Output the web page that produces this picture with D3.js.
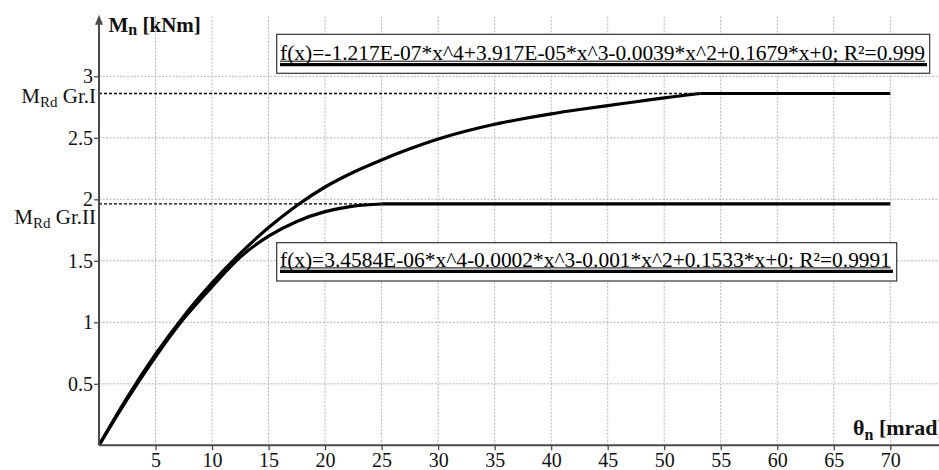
<!DOCTYPE html>
<html><head><meta charset="utf-8">
<script src="https://cdn.jsdelivr.net/npm/d3@7/dist/d3.min.js"></script>
<style>
html,body{margin:0;padding:0;background:#fff;}
svg{display:block;font-family:"Liberation Serif","Times New Roman",serif;}
</style></head>
<body><svg id="c" width="939" height="470"></svg>
<script>
// ---- data ----
const xTicks = [5,10,15,20,25,30,35,40,45,50,55,60,65,70];
const yTicks = [0.5,1,1.5,2,2.5,3];
const yTickLabels = ["0.5","1","1.5","2","2.5","3"];

const thetaI = [0,2.5,5,7.5,10,12.5,15,17.5,20,22.5,25,27.5,30,32.5,35,37.5,40,42.5,45,47.5,50,53.2,70];
const momentI = [0,0.39,0.74,1.05,1.32,1.56,1.77,1.95,2.10,2.22,2.32,2.41,2.49,2.555,2.61,2.655,2.695,2.73,2.762,2.793,2.825,2.86,2.86];
const thetaII = [0,2.5,5,7.5,10,12.5,15,17.5,20,22.5,25,70];
const momentII = [0,0.375,0.72,1.03,1.29,1.53,1.70,1.82,1.90,1.945,1.962,1.962];

const mrdI = 2.86, mrdII = 1.962;
const fitTextI = "f(x)=-1.217E-07*x^4+3.917E-05*x^3-0.0039*x^2+0.1679*x+0; R\u00B2=0.999";
const fitTextII = "f(x)=3.4584E-06*x^4-0.0002*x^3-0.001*x^2+0.1533*x+0; R\u00B2=0.9991";

// ---- drawing ----
const svg = d3.select("#c");
const x = d3.scaleLinear().domain([0,70]).range([99,890.3]);
const y = d3.scaleLinear().domain([0,3]).range([445.3,76.3]);
const xEnd = 939, yTop = y(3.5);
const axisColor = "#4a4a4a";

// grid
const grid = svg.append("g").attr("stroke","#b4b4b4").attr("stroke-width",1).attr("stroke-dasharray","2,1.5");
grid.selectAll("line.v").data(xTicks).enter().append("line")
  .attr("x1",d=>x(d)).attr("x2",d=>x(d)).attr("y1",y(0)).attr("y2",yTop);
grid.selectAll("line.h").data(yTicks).enter().append("line")
  .attr("y1",d=>y(d)).attr("y2",d=>y(d)).attr("x1",x(0)).attr("x2",xEnd);

// dashed limit lines
svg.append("line").attr("x1",x(0)).attr("x2",x(thetaI[thetaI.length-2]))
  .attr("y1",y(mrdI)).attr("y2",y(mrdI)).attr("stroke","#000").attr("stroke-width",1.3).attr("stroke-dasharray","3,2");
svg.append("line").attr("x1",x(0)).attr("x2",x(thetaII[thetaII.length-2]))
  .attr("y1",y(mrdII)).attr("y2",y(mrdII)).attr("stroke","#000").attr("stroke-width",1.3).attr("stroke-dasharray","3,2");

// curves
function drawSeries(xs, ys){
  const pts = xs.map((d,i)=>[d,ys[i]]);
  const rise = pts.slice(0,pts.length-1);
  const flat = pts.slice(pts.length-2);
  const curved = d3.line().x(d=>x(d[0])).y(d=>y(d[1])).curve(d3.curveMonotoneX);
  const straight = d3.line().x(d=>x(d[0])).y(d=>y(d[1]));
  svg.append("path").attr("d",curved(rise)).attr("fill","none").attr("stroke","#000").attr("stroke-width",3.2).attr("stroke-linejoin","round");
  svg.append("path").attr("d",straight(flat)).attr("fill","none").attr("stroke","#000").attr("stroke-width",3.2);
}
drawSeries(thetaII, momentII);
drawSeries(thetaI, momentI);

// legend boxes
function legendBox(bx,by,bw,bh,text,tx,tw,base){
  svg.append("rect").attr("x",bx).attr("y",by).attr("width",bw).attr("height",bh)
    .attr("fill","#fff").attr("stroke","#333").attr("stroke-width",1.2);
  svg.append("text").attr("x",tx).attr("y",base).attr("font-size",21)
    .attr("textLength",tw).attr("lengthAdjust","spacingAndGlyphs").attr("fill","#000").text(text);
  svg.append("line").attr("x1",tx).attr("x2",tx+tw).attr("y1",base+1.2).attr("y2",base+1.2).attr("stroke","#000").attr("stroke-width",1);
  svg.append("line").attr("x1",tx).attr("x2",tx+tw+2).attr("y1",base+4.6).attr("y2",base+4.6).attr("stroke","#000").attr("stroke-width",3.2);
}
legendBox(276.7,34.3,653,39,fitTextI,280,645,60);
legendBox(276.7,242.7,620,38.3,fitTextII,280,611,266.7);

// axes
const gx = svg.append("g").attr("transform",`translate(0,${y(0)})`)
  .call(d3.axisBottom(x).tickValues(xTicks).tickSize(5).tickSizeOuter(0).tickFormat(d3.format("d")));
gx.select(".domain").remove();
gx.selectAll(".tick line").attr("stroke",axisColor).attr("stroke-width",1.3);
gx.selectAll(".tick text").attr("font-family","Liberation Serif").attr("font-size",20).attr("fill","#111").attr("y",8).attr("dy","0.71em");

const gy = svg.append("g").attr("transform",`translate(${x(0)},0)`)
  .call(d3.axisLeft(y).tickValues(yTicks).tickSize(5).tickSizeOuter(0).tickFormat((d,i)=>yTickLabels[i]));
gy.select(".domain").remove();
gy.selectAll(".tick line").attr("stroke",axisColor).attr("stroke-width",1.3);
gy.selectAll(".tick text").attr("font-family","Liberation Serif").attr("font-size",20).attr("fill","#111").attr("x",-6).attr("dy","0.33em");

svg.append("line").attr("x1",x(0)).attr("x2",xEnd).attr("y1",y(0)).attr("y2",y(0)).attr("stroke",axisColor).attr("stroke-width",2);
svg.append("line").attr("x1",x(0)).attr("x2",x(0)).attr("y1",y(0)).attr("y2",yTop+6).attr("stroke",axisColor).attr("stroke-width",2);
svg.append("path").attr("d",`M${x(0)},${yTop} L${x(0)-4},${yTop+10} L${x(0)+4},${yTop+10} Z`).attr("fill",axisColor);

// axis titles
const yt = svg.append("text").attr("x",108.5).attr("y",32).attr("font-size",21).attr("font-weight","bold").attr("fill","#111");
yt.append("tspan").text("M");
yt.append("tspan").attr("dy",3).attr("font-size",16).text("n");
yt.append("tspan").attr("dy",-3).text(" [kNm]");

const xt = svg.append("text").attr("x",853).attr("y",435).attr("font-size",22).attr("font-weight","bold").attr("fill","#111");
xt.append("tspan").text("\u03B8");
xt.append("tspan").attr("dy",5).attr("font-size",16).text("n");
xt.append("tspan").attr("dy",-5).text(" [mrad]");

// M_Rd labels
function mrdLabel(val, grp, base){
  const t = svg.append("text").attr("x",96).attr("y",base).attr("text-anchor","end").attr("font-size",21).attr("fill","#111");
  t.append("tspan").text("M");
  t.append("tspan").attr("dy",4).attr("font-size",15).text("Rd");
  t.append("tspan").attr("dy",-4).text(" Gr." + grp);
}
mrdLabel(mrdI,"I",y(mrdI)+9.6);
mrdLabel(mrdII,"II",y(mrdII)+20);
</script></body></html>
